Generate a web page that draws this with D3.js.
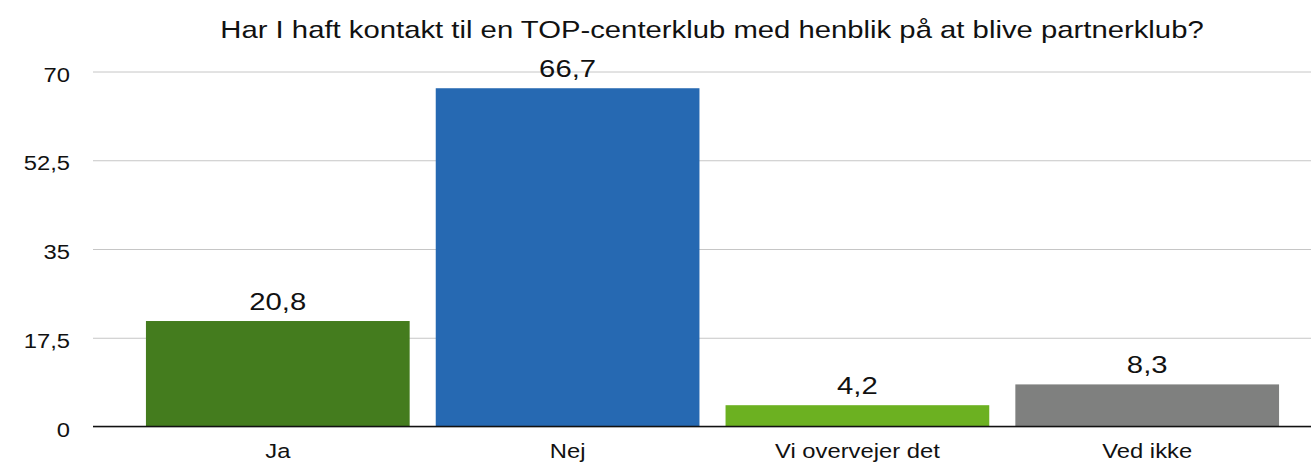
<!DOCTYPE html>
<html>
<head>
<meta charset="utf-8">
<script src="https://cdn.jsdelivr.net/npm/d3@7"></script>
<style>
  html, body { margin: 0; padding: 0; background: #fff; overflow: hidden; }
  svg { display: block; font-family: "Liberation Sans", Arial, Helvetica, sans-serif; }
</style>
</head>
<body>
<svg id="chart"></svg>
<script>
const TITLE = "Har I haft kontakt til en TOP-centerklub med henblik på at blive partnerklub?";
const categories = ["Ja", "Nej", "Vi overvejer det", "Ved ikke"];
const values = [20.8, 66.7, 4.2, 8.3];
const barColors = ["#447c1e", "#2669b2", "#6cb121", "#7f807f"];
const yTicks = [0, 17.5, 35, 52.5, 70];

const width = 1311, height = 462;
const STRETCH = 1.22; // reference glyphs are wider than Liberation Sans
const svg = d3.select("#chart").attr("width", width).attr("height", height);

const plotLeft = 93;
const x = d3.scaleBand()
  .domain(categories)
  .range([132.9, 1292.1])
  .paddingInner(0.09)
  .paddingOuter(0.045);
const y = d3.scaleLinear().domain([0, 70]).range([426.5, 71.5]);

const fmt = v => String(v).replace(".", ",");
const wide = (tx, ty) => `translate(${tx},${ty}) scale(${STRETCH},1)`;

// title
svg.append("text")
  .attr("transform", wide(712, 37.5))
  .attr("text-anchor", "middle")
  .style("font-size", "24px")
  .attr("fill", "#111")
  .text(TITLE);

// gridlines + y labels
const yAxis = d3.axisLeft(y)
  .tickValues(yTicks)
  .tickSize(-(width - plotLeft))
  .tickFormat(fmt);

svg.append("g")
  .attr("transform", `translate(${plotLeft},0)`)
  .call(yAxis)
  .call(g => g.select(".domain").remove())
  .call(g => g.selectAll(".tick line").attr("stroke", "#c6c6c6").attr("stroke-width", 1))
  .call(g => g.selectAll(".tick text")
    .attr("x", null)
    .attr("dy", null)
    .attr("transform", wide(-23, 9.5))
    .attr("fill", "#111")
    .style("font-size", "19.5px")
    .style("font-family", "inherit"));

// bars
svg.append("g")
  .selectAll("rect")
  .data(categories)
  .join("rect")
  .attr("x", d => x(d))
  .attr("y", (d, i) => y(values[i]))
  .attr("width", x.bandwidth())
  .attr("height", (d, i) => y(0) - y(values[i]))
  .attr("fill", (d, i) => barColors[i]);

// value labels
svg.append("g")
  .selectAll("text")
  .data(categories)
  .join("text")
  .attr("transform", (d, i) => wide(x(d) + x.bandwidth() / 2, y(values[i]) - 11))
  .attr("text-anchor", "middle")
  .attr("fill", "#111")
  .style("font-size", "24px")
  .text((d, i) => fmt(values[i]));

// category labels
const xAxis = d3.axisBottom(x).tickSize(0);
svg.append("g")
  .attr("transform", `translate(0,${y(0)})`)
  .call(xAxis)
  .call(g => g.select(".domain").remove())
  .call(g => g.selectAll(".tick text")
    .attr("y", null)
    .attr("dy", null)
    .attr("transform", wide(0, 31.5))
    .attr("fill", "#111")
    .style("font-size", "19.5px")
    .style("font-family", "inherit"));

// baseline
svg.append("line")
  .attr("x1", plotLeft)
  .attr("x2", width)
  .attr("y1", y(0))
  .attr("y2", y(0))
  .attr("stroke", "#111")
  .attr("stroke-width", 1.5);
</script>
</body>
</html>
